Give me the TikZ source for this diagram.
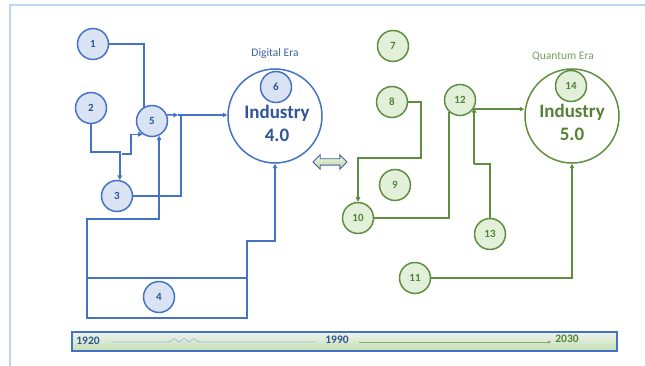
\documentclass[tikz,border=0pt]{standalone}
\usepackage{fontspec}
\setmainfont{Carlito}
\usetikzlibrary{arrows.meta,shapes.arrows}
\definecolor{bl}{HTML}{4472C4}
\definecolor{blfill}{HTML}{DAE3F3}
\definecolor{bltext}{HTML}{2F5597}
\definecolor{gr}{HTML}{5E8E3E}
\definecolor{grfill}{HTML}{E2F0D9}
\definecolor{grtext}{HTML}{548235}
\definecolor{frame}{HTML}{BDD7EE}
\definecolor{barbot}{HTML}{C5E0B4}
\definecolor{bartop}{HTML}{EEF2EC}
\definecolor{arrfill}{HTML}{B7D7A0}
\definecolor{arrdraw}{HTML}{44609A}
\tikzset{
  bnode/.style={circle, draw=bl, line width=1.5pt, fill=blfill, minimum size=31pt, inner sep=0pt,
    font=\bfseries\fontsize{11}{12}\selectfont, text=bltext},
  gnode/.style={circle, draw=gr, line width=1.5pt, fill=grfill, minimum size=31pt, inner sep=0pt,
    font=\bfseries\fontsize{11}{12}\selectfont, text=grtext},
  bigb/.style={circle, draw=bl, line width=1.5pt, fill=white, minimum size=94pt, inner sep=0pt},
  bigg/.style={circle, draw=gr, line width=1.5pt, fill=white, minimum size=94pt, inner sep=0pt},
  bline/.style={draw=bl, line width=1.5pt},
  gline/.style={draw=gr, line width=1.5pt},
  arr/.style={-{Triangle[length=4.5pt,width=4.5pt]}},
  indtext/.style={font=\bfseries\fontsize{19}{23}\selectfont, align=center},
  eratext/.style={font=\fontsize{11.5}{13}\selectfont},
  yeartext/.style={font=\bfseries\fontsize{11.5}{12}\selectfont}
}
\begin{document}
\begin{tikzpicture}[x=1pt,y=-1pt]
\useasboundingbox (0,0) rectangle (645,366);
% frame
\draw[frame, line width=2pt] (10,366) -- (10,5) -- (645,5);

% big circles
\node[bigb] (I4) at (275,116) {};
\node[indtext, text=bltext] (t4) at (277,123) {Industry\\4.0};
\node[eratext, text=bl!85!black] (de) at (275,53) {Digital Era};
\node[bigg] (I5) at (572,116) {};
\node[indtext, text=grtext] (t5) at (572,122) {Industry\\5.0};
\node[eratext, text=gr!85!white] (qe) at (563,57) {Quantum Era};

% blue nodes
\node[bnode] (n1) at (93,44) {1};
\node[bnode] (n2) at (91,108) {2};
\node[bnode] (n5) at (152,121) {5};
\node[bnode] (n3) at (117,196) {3};
\node[bnode] (n4) at (159,297) {4};
\node[bnode] (n6) at (276,87) {6};

% green nodes
\node[gnode] (n7) at (393,46) {7};
\node[gnode] (n8) at (392,102) {8};
\node[gnode] (n9) at (395,185) {9};
\node[gnode] (n10) at (358,218) {10};
\node[gnode] (n12) at (460,100) {12};
\node[gnode] (n13) at (490,234) {13};
\node[gnode] (n11) at (415,278) {11};
\node[gnode] (n14) at (571,86) {14};

% blue connectors
\coordinate (s) at (122,154);
\coordinate (j1) at (178,115);
\coordinate (j2) at (181,115);
\coordinate (la) at (87,219);
\coordinate (lb) at (87,278);
\coordinate (lc) at (87,318);
\coordinate (ld) at (247,318);
\coordinate (le) at (247,278);
\coordinate (lf) at (247,241);
\draw[bline] (n1.east) -| (n5.120);
\draw[bline,arr] (n2.south) -- ++(0,28) -| (n3.80);
\draw[bline,arr] (s) -- (131,154) |- (n5.235);
\draw[bline,arr] (n5.22) -- (j1);
\draw[bline,arr] (j1) -- (j1 -| I4.west);
\draw[bline] (n3.east) -| (j2);
\draw[bline,arr] (lb) -- (la) -| (n5.296);
\draw[bline] (lb) -- (lc) -- (ld) -- (le) -- cycle;
\draw[bline,arr] (le) -- (lf) -| (I4.south);

% green connectors
\draw[gline,arr] (n8.east) -- (421,102) -- (421,158) -| (n10.north);
\draw[gline] (n10.east) -| (n12.227);
\draw[gline,arr] (n13.north) |- (474,164) -| (n12.330);
\draw[gline,arr] (n12.326) -- (n12.326 -| I5.west);
\draw[gline,arr] (n11.east) -| (I5.south);

% double arrow
\node[double arrow, draw=arrdraw, line width=0.9pt, top color=grfill!60!white, bottom color=arrfill,
  minimum height=34pt, inner xsep=0pt, inner ysep=2.75pt, double arrow head extend=4pt] (da) at (330,162) {};

% timeline
\node[draw=bl, line width=1.5pt, top color=bartop, bottom color=barbot,
  minimum width=545pt, minimum height=19pt, inner sep=0pt, anchor=north west] (bar) at (71,331) {};
\node[yeartext, text=bltext] (y1) at (88,341) {1920};
\node[yeartext, text=bltext] (y2) at (337,340) {1990};
\node[yeartext, text=grtext] (y3) at (567,339) {2030};
\draw[bl!50!white, line width=0.7pt] (111,342) -- (169,342) -- (174,338.5) -- (179,342) -- (184,338.5) -- (189,342) -- (194,338.5) -- (199,342) -- (315,342);
\draw[gr!75!white, line width=0.7pt, -{Triangle[length=3pt,width=3pt]}] (359,342) -- (551,342);
\end{tikzpicture}
\end{document}
